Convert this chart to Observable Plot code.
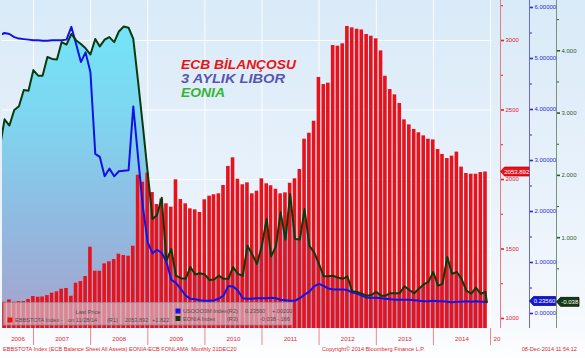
<!DOCTYPE html>
<html><head><meta charset="utf-8">
<script src="https://cdn.jsdelivr.net/npm/d3@7"></script>
<script src="https://cdn.jsdelivr.net/npm/@observablehq/plot@0.6"></script>
<style>
html,body{margin:0;padding:0;background:#fff;}
#chart{position:relative;width:585px;height:358px;overflow:hidden;
background:linear-gradient(to bottom,#d9eaf8 0%,#e9f2fb 55%,#f6f9fd 90%,#fdfeff 100%);}
</style></head><body><div id="chart"></div>
<script>
// ---------------- DATA ----------------
// month-end observations; index 0 = May 2006 (lines only), bars start Jun 2006
const ecbAssets = [1117,1134,1117,1122,1122,1137,1158,1153,1155,1165,
1182,1192,1211,1216,1160,1254,1266,1302,1513,1340,
1340,1393,1408,1424,1463,1453,1448,1520,2031,1981,
2046,1906,1820,1860,1825,1801,1998,1856,1825,1789,
1782,1763,1854,1880,1890,1897,1957,2094,2156,2002,
1962,1976,1897,1916,2005,1969,1955,1930,1897,1904,
1973,2005,2072,2290,2333,2419,2734,2683,2693,2964,
2959,2976,3101,3091,3081,3076,3043,3031,3012,2925,
2743,2647,2609,2547,2429,2393,2360,2336,2314,2290,
2285,2216,2180,2151,2168,2197,2089,2043,2038,2038,
2050,2054];
const usdLibor3m = [5.46,5.50,5.48,5.42,5.39,5.38,5.37,5.36,5.36,5.35,
5.35,5.36,5.36,5.36,5.37,5.62,5.29,4.93,5.12,4.73,
3.13,3.07,2.69,2.84,2.69,2.79,2.80,2.81,4.06,3.05,
2.10,1.40,1.18,1.25,1.19,1.01,0.66,0.60,0.48,0.35,
0.29,0.28,0.26,0.25,0.25,0.26,0.29,0.35,0.54,0.53,
0.45,0.30,0.29,0.29,0.30,0.30,0.30,0.31,0.30,0.27,
0.26,0.25,0.25,0.30,0.37,0.43,0.53,0.58,0.54,0.49,
0.47,0.47,0.47,0.46,0.41,0.39,0.35,0.31,0.31,0.31,
0.30,0.29,0.28,0.27,0.27,0.27,0.27,0.26,0.25,0.24,
0.24,0.25,0.24,0.24,0.23,0.22,0.23,0.23,0.24,0.23,
0.24,0.23,0.23];
const eoniaRate = [2.45,2.90,2.80,3.05,3.11,3.37,3.36,3.69,3.60,3.60,
3.90,3.87,3.86,4.14,4.10,4.27,4.17,4.11,4.04,3.94,
4.19,4.07,4.18,4.22,4.14,4.31,4.39,4.37,4.19,3.50,
2.80,2.05,1.30,1.36,1.64,0.63,0.82,0.39,0.35,0.34,
0.53,0.41,0.43,0.41,0.32,0.33,0.39,0.34,0.34,0.53,
0.42,0.39,0.87,0.73,0.58,0.87,1.30,0.70,0.86,1.41,
0.97,1.70,0.98,0.97,1.46,0.87,0.77,0.58,0.38,0.38,
0.39,0.36,0.34,0.38,0.14,0.13,0.10,0.07,0.08,0.13,
0.07,0.07,0.11,0.11,0.11,0.22,0.16,0.11,0.18,0.25,
0.29,0.45,0.23,0.26,0.69,0.42,0.45,0.34,0.15,0.10,
0.20,0.10,0.13];
const lastDate = "2014-12-08";
const lastLibor = 0.2356;
const lastEonia = -0.038;
const lastEcb = 2053.892;
const redTicks = [1000,1500,2000,2500,3000];
const redMinor = [1250,1750,2250,2750,3250];
const blueTicks = [0,1,2,3,4,5,6];
const blueMinor = [0.5,1.5,2.5,3.5,4.5,5.5];
const greenTicks = [1,2,3,4];
const greenMinor = [0.5,1.5,2.5,3.5,4.5];
const yearLabels = ["2006","2007","2008","2009","2010","2011","2012","2013","2014"];

// ---------------- SCALES / LAYOUT ----------------
const monthEnd = i => new Date(Date.UTC(2006, 4 + i + 1, 0));
const X0 = Date.UTC(2007,0,1), X1 = Date.UTC(2015,0,1);
const pxPerMs = 457 / (X1 - X0);
const xStart = X0 - 31 / pxPerMs, xEnd = X1 + 2 / pxPerMs;
const redAtPx = px => 1000 + (318 - px) / 0.139;
const redMin = redAtPx(328), redMax = redAtPx(0);
const b2r = d3.scaleLinear().domain([0, 6]).range([redAtPx(313), redAtPx(7)]);
const g2r = d3.scaleLinear().domain([0, 4]).range([redAtPx(299.5), redAtPx(50.3)]);
const DAY = 86400000;

const bars = ecbAssets.map((v, k) => ({date: monthEnd(k + 1), v}));
const libor = usdLibor3m.map((v, i) => ({date: monthEnd(i), v}))
  .concat([{date: new Date(lastDate), v: lastLibor}]);
const eonia = eoniaRate.map((v, i) => ({date: monthEnd(i), v}))
  .concat([{date: new Date(lastDate), v: lastEonia}]);
const yearStarts = d3.range(2007, 2016).map(y => new Date(Date.UTC(y,0,1)));
const yearMids = yearLabels.map((label, i) => {
  const y = 2006 + i;
  const a = Math.max(Date.UTC(y,0,1), xStart), b = Date.UTC(y+1,0,1);
  return {label, x: new Date((a + b) / 2)};
});

const RED = "#e3222a", BLUE = "#2a2ad0", GREEN = "#2f5a2f";
const font = "'Liberation Sans', Arial, sans-serif";

const axisR = (ticks, dx, color, fmt, size) => Plot.axisY(ticks, {
  anchor: "right", dx, tickSize: size, tickPadding: 2, color,
  strokeWidth: size > 2 ? 1.6 : 1, fontSize: 6, label: null,
  tickFormat: fmt
});

const plot = Plot.plot({
  width: 585, height: 358,
  marginLeft: 2, marginRight: 93, marginTop: 0, marginBottom: 30,
  style: {background: "transparent", fontFamily: font, fontSize: "6px", overflow: "visible"},
  x: {type: "utc", domain: [new Date(xStart), new Date(xEnd)], axis: null},
  y: {domain: [redMin, redMax]},
  marks: [
    Plot.gridY(redTicks, {stroke: "#ffffff", strokeOpacity: 0.9, strokeWidth: 1}),
    Plot.gridX(yearStarts, {stroke: "#ffffff", strokeOpacity: 0.9, strokeWidth: 1}),
    Plot.areaY(eonia, {x: "date", y1: () => redMin, y2: d => g2r(d.v), fill: "url(#eoniaGrad)", clip: true}),
    Plot.rect(bars, {x1: d => new Date(+d.date - 11.5 * DAY), x2: d => new Date(+d.date + 11.5 * DAY),
      y1: () => redMin, y2: "v", fill: "#e8121c", clip: true}),
    Plot.line(libor, {x: "date", y: d => b2r(d.v), stroke: "#1212e6", strokeWidth: 2, clip: true}),
    Plot.line(eonia, {x: "date", y: d => g2r(d.v), stroke: "#0b3a0b", strokeWidth: 2, clip: true}),
    // right axes
    Plot.ruleX([new Date(xEnd)], {dx: 8, stroke: "#ec7c7c"}),
    Plot.ruleX([new Date(xEnd)], {dx: 37, stroke: "#6a6ae0"}),
    Plot.ruleX([new Date(xEnd)], {dx: 64, stroke: "#7a947a"}),
    axisR(redTicks, 8, RED, d => d3.format("d")(d), 3),
    axisR(redMinor, 8, RED, () => "", 2),
    axisR(blueTicks.map(b2r), 37, BLUE, d => b2r.invert(d).toFixed(5), 3),
    axisR(blueMinor.map(b2r), 37, BLUE, () => "", 2),
    axisR(greenTicks.map(g2r), 64, GREEN, d => g2r.invert(d).toFixed(3), 3),
    axisR(greenMinor.map(g2r), 64, GREEN, () => "", 2),
    // bottom time axis
    Plot.axisX(yearStarts, {tickSize: 17, tickFormat: () => "", stroke: "#ee8888", strokeWidth: 1}),
    Plot.text(yearMids, {x: "x", text: "label", frameAnchor: "bottom", dy: 12.5, fill: "#e0282e", fontSize: 6.2}),
    Plot.text(["20"], {x: () => new Date(X1), text: d => d, frameAnchor: "bottom", dy: 12.5, dx: 3,
      textAnchor: "start", fill: "#e0282e", fontSize: 6.2})
  ]
});

// gradient defs
const svg = d3.select(plot);
const defs = svg.insert("defs", ":first-child");
const grad = defs.append("linearGradient").attr("id", "eoniaGrad")
  .attr("gradientUnits", "userSpaceOnUse").attr("x1", 0).attr("y1", 0).attr("x2", 0).attr("y2", 328);
[[0, "#70e8fa"], [0.35, "#7ed6f0"], [0.65, "#8fbce2"], [1, "#a6a2cc"]].forEach(([o, c]) =>
  grad.append("stop").attr("offset", o).attr("stop-color", c));

// legend box
const lg = svg.append("g").attr("font-family", font).attr("font-size", 5.6).attr("fill", "#5a4a50")
  .attr("text-anchor", "start");
lg.append("rect").attr("x", 3.5).attr("y", 302.5).attr("width", 289).attr("height", 22.5)
  .attr("fill", "rgba(214,204,214,0.62)").attr("stroke", "#a08890").attr("stroke-width", 0.8);
const lt = (x, y, s, anchor = "start") => lg.append("text").attr("x", x).attr("y", y)
  .attr("dominant-baseline", "central").attr("text-anchor", anchor).text(s);
lt(88, 311.5, "Last Price", "middle");
lg.append("rect").attr("x", 7.5).attr("y", 317.5).attr("width", 5).attr("height", 5).attr("fill", "#f01010");
lt(15, 320, "EBBSTOTA Index -"); lt(68, 320, "on 11/28/14"); lt(107, 320, "(R1)");
lt(125, 320, "2053.892"); lt(152, 320, "+1.822");
lg.append("rect").attr("x", 175.5).attr("y", 308.5).attr("width", 5).attr("height", 5).attr("fill", "#1010f0");
lt(183, 311, "USOOO3M Index"); lt(227, 311, "(R2)"); lt(245, 311, "0.23560"); lt(272, 311, "+.00200");
lg.append("rect").attr("x", 175.5).attr("y", 316).attr("width", 5).attr("height", 5).attr("fill", "#0f3a0f");
lt(183, 318.5, "EONIA Index"); lt(227, 318.5, "(R3)"); lt(260, 318.5, "-0.038"); lt(277, 318.5, "-.166");

// title
const tg = svg.append("g").attr("font-family", font).attr("font-size", 12.2)
  .attr("font-weight", "bold").attr("font-style", "italic").attr("text-anchor", "start");
const tt = (y, fill, len, s) => tg.append("text").attr("x", 181).attr("y", y).attr("fill", fill)
  .attr("textLength", len).attr("lengthAdjust", "spacingAndGlyphs").text(s);
tt(68.5, "#ee1111", 115, "ECB BİLANÇOSU");
tt(82.5, "#5656b2", 104, "3 AYLIK LIBOR");
tt(96.5, "#33b433", 44, "EONIA");

// value tags on the right axes (placed with the plot's own y scale)
const ys = plot.scale("y");
const tag = (x0, x1, v, fill, stroke, label) => {
  const cy = ys.apply(v);
  svg.append("path").attr("d", `M${x0},${cy}L${x0+4},${cy-4.5}L${x1},${cy-4.5}L${x1},${cy+4.5}L${x0+4},${cy+4.5}Z`)
    .attr("fill", fill).attr("stroke", stroke).attr("stroke-width", 0.7);
  svg.append("text").attr("x", (x0 + 4 + x1) / 2).attr("y", cy).attr("dominant-baseline", "central")
    .attr("text-anchor", "middle").attr("font-family", font).attr("font-size", 6).attr("fill", "#fff").text(label);
};
tag(500.5, 529, lastEcb, "#e8121c", "#b00000", "2053.892");
tag(529.5, 555.5, b2r(lastLibor), "#1616d8", "#000080", "0.23560");
tag(556.5, 579, g2r(lastEonia), "#123c12", "#000", "-0.038");

// captions
const cg = svg.append("g").attr("font-family", font).attr("font-size", 5.6).attr("fill", "#e0282e")
  .attr("text-anchor", "start");
cg.append("text").attr("x", 3).attr("y", 349).attr("dominant-baseline", "central")
  .text("EBBSTOTA Index (ECB Balance Sheet All Assets) EONIA-ECB FONLAMA  Monthly 31DEC20");
cg.append("text").attr("x", 322).attr("y", 348.5).attr("dominant-baseline", "central")
  .text("Copyright© 2014 Bloomberg Finance L.P.");
cg.append("text").attr("x", 577).attr("y", 348.5).attr("dominant-baseline", "central")
  .attr("text-anchor", "end").text("08-Dec-2014 11:54:12");

document.getElementById("chart").appendChild(plot);
</script></body></html>
